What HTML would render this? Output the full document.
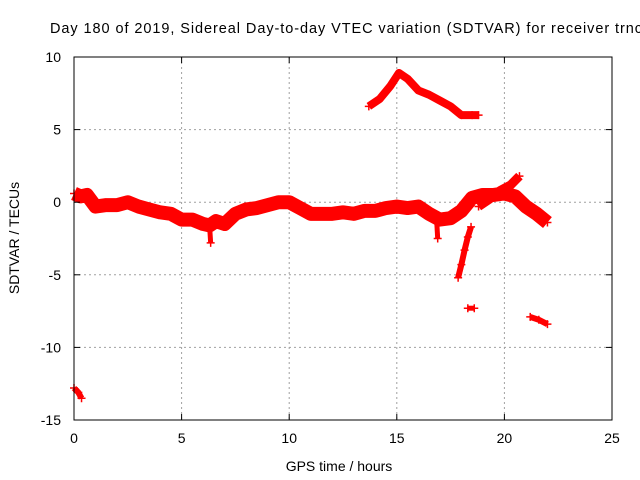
<!DOCTYPE html>
<html><head><meta charset="utf-8"><style>
body{margin:0;background:#fff}
svg{display:block;font-family:"Liberation Sans",sans-serif;font-size:14px}
</style></head><body>
<svg id="c" width="640" height="480">
<text x="50" y="33" textLength="592" lengthAdjust="spacing" style="font-size:14.5px">Day 180 of 2019, Sidereal Day-to-day VTEC variation (SDTVAR) for receiver trnc</text>
<text x="339" y="471" text-anchor="middle">GPS time / hours</text>
<text transform="translate(19,238) rotate(-90)" text-anchor="middle">SDTVAR / TECUs</text>
<g id="grid"></g><g id="marks"></g><g id="axes"></g>
</svg>
<script>
const xTicks=[0,5,10,15,20,25];
const yTicks=[10,5,0,-5,-10,-15];
const mainH=[0,0.3,0.6,1,1.5,2,2.5,3,3.5,4,4.5,5,5.5,6,6.3,6.6,7,7.5,8,8.5,9,9.5,10,10.5,11,11.5,12,12.5,13,13.5,14,14.5,15,15.5,16,16.5,17,17.5,18,18.5,19,19.5,20,20.5,21,21.5,22];
const mainV=[0.6,0.4,0.5,-0.3,-0.2,-0.2,0,-0.3,-0.5,-0.7,-0.8,-1.2,-1.2,-1.5,-1.6,-1.3,-1.5,-0.8,-0.5,-0.4,-0.2,0,0,-0.4,-0.8,-0.8,-0.8,-0.7,-0.8,-0.6,-0.6,-0.4,-0.3,-0.4,-0.3,-0.8,-1.2,-1.1,-0.6,0.3,0.5,0.5,0.6,0.4,-0.3,-0.8,-1.4];
const branchH=[18.8,19.3,19.8,20.3,20.7];
const branchV=[-0.3,0.2,0.8,1.2,1.8];
const peakH=[13.7,14.2,14.7,15.1,15.5,16,16.5,17,17.5,18,18.5,18.8];
const peakV=[6.6,7.1,8,8.9,8.5,7.7,7.4,7.0,6.6,6.0,6.0,6.0];
const dropH=[17.85,18.0,18.15,18.3,18.45];
const dropV=[-5.2,-4.3,-3.3,-2.4,-1.7];
const dip1H=[6.3,6.35];const dip1V=[-1.6,-2.8];
const dip2H=[16.85,16.9];const dip2V=[-1.2,-2.5];
const blobH=[18.3,18.6];const blobV=[-7.3,-7.3];
const tailH=[21.2,21.6,22];const tailV=[-7.9,-8.1,-8.4];
const startH=[0,0.2,0.35];const startV=[-12.8,-13.1,-13.5];
const L=74,R=612,T=57,B=420;
const sx=h=>L+(h-0)/25*(R-L);
const sy=v=>T+(10-v)/25*(B-T);
const NS="http://www.w3.org/2000/svg";
function mk(tag,attrs,parent){const e=document.createElementNS(NS,tag);for(const k in attrs)e.setAttribute(k,attrs[k]);parent.appendChild(e);return e;}
const grid=document.getElementById('grid'),axes=document.getElementById('axes'),marks=document.getElementById('marks');
xTicks.forEach(t=>{const x=sx(t);
 if(t>0&&t<25){const g=mk('line',{x1:x,x2:x,y1:T,y2:B,stroke:'#a0a0a0','stroke-dasharray':'2,3'},grid);
 }
 mk('line',{x1:x,x2:x,y1:B,y2:B-6,stroke:'#000'},axes);mk('line',{x1:x,x2:x,y1:T,y2:T+6,stroke:'#000'},axes);
 const tx=mk('text',{x:x,y:B+23,'text-anchor':'middle'},axes);tx.textContent=t;
 });
yTicks.forEach(t=>{const y=sy(t);
 if(t<10&&t>-15){const g=mk('line',{x1:L,x2:R,y1:y,y2:y,stroke:'#a0a0a0','stroke-dasharray':'2,3'},grid);
 }
 mk('line',{x1:L,x2:L+6,y1:y,y2:y,stroke:'#000'},axes);mk('line',{x1:R,x2:R-6,y1:y,y2:y,stroke:'#000'},axes);
 const tx=mk('text',{x:L-13,y:y+5,'text-anchor':'end'},axes);tx.textContent=t;
 });
const fr=mk('rect',{x:L,y:T,width:R-L,height:B-T,fill:'none',stroke:'#000'},axes);

function series(H,V,w,name){
 const pts=H.map((h,i)=>sx(h)+','+sy(V[i])).join(' ');
 const p=mk('polyline',{points:pts,fill:'none',stroke:'#f00','stroke-width':w,'stroke-linejoin':'round','stroke-linecap':'butt'},marks);
 
 H.forEach((h,i)=>{const x=sx(h),y=sy(V[i]);
  const m=mk('path',{d:`M${x-4},${y}h8M${x},${y-4}v8`,stroke:'#f00','stroke-width':1.5},marks);
  });
}
series(mainH,mainV,14,'main-series');
series(branchH,branchV,9,'branch-series');
series(peakH,peakV,8,'peak-series');
series(dropH,dropV,6,'drop-series');
series(dip1H,dip1V,5,'dip-series');
series(dip2H,dip2V,5,'dip-series');
series(blobH,blobV,5,'blob-series');
series(tailH,tailV,6,'tail-series');
series(startH,startV,6,'start-series');
</script>
</body></html>
